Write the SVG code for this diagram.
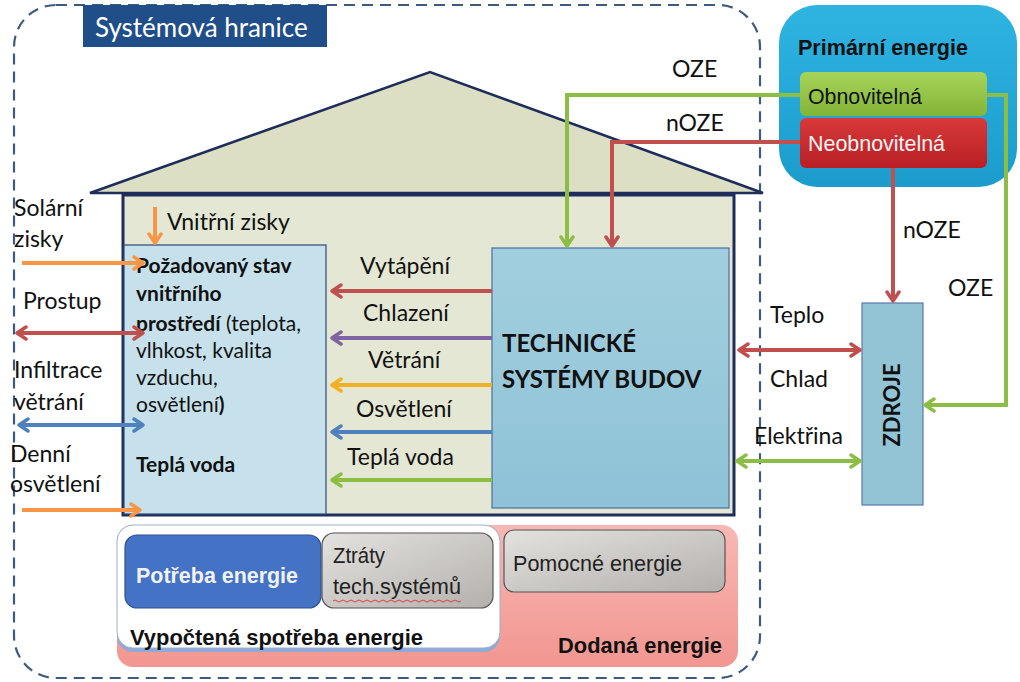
<svg xmlns="http://www.w3.org/2000/svg" width="1020" height="682" viewBox="0 0 1020 682">
<defs>
<style>
.t{font-family:Lato,"Open Sans","Liberation Sans",sans-serif;font-size:23px;fill:#111}
.i{font-size:21px}
.b{font-weight:bold}
.n{font-family:"Liberation Sans",Arial,sans-serif;font-size:22px}
.ln{fill:none;stroke-width:4;stroke-linecap:butt}
</style>
<linearGradient id="gPrim" x1="0" y1="0" x2="0" y2="1"><stop offset="0" stop-color="#2fb4e2"/><stop offset="1" stop-color="#1b9ccc"/></linearGradient>
<linearGradient id="gGreen" x1="0" y1="0" x2="0" y2="1"><stop offset="0" stop-color="#a6d45a"/><stop offset="1" stop-color="#82b437"/></linearGradient>
<linearGradient id="gRed" x1="0" y1="0" x2="0" y2="1"><stop offset="0" stop-color="#d8393a"/><stop offset="1" stop-color="#b81f24"/></linearGradient>
<linearGradient id="gGrey" x1="0" y1="0" x2="1" y2="1"><stop offset="0" stop-color="#e4e2df"/><stop offset="1" stop-color="#b3b0ad"/></linearGradient>
<linearGradient id="gPink" x1="0" y1="0" x2="0" y2="1"><stop offset="0" stop-color="#f8b8b4"/><stop offset="1" stop-color="#f29690"/></linearGradient>
<linearGradient id="gTsb" x1="0" y1="0" x2="0" y2="1"><stop offset="0" stop-color="#a2cfdf"/><stop offset="1" stop-color="#8ec2d6"/></linearGradient>
<marker id="mR" viewBox="0 0 14 16" refX="11" refY="8" markerWidth="14" markerHeight="16" markerUnits="userSpaceOnUse" orient="auto-start-reverse"><path d="M2,2 L11,8 L2,14" fill="none" stroke="#c0504d" stroke-width="3.5" stroke-linecap="round" stroke-linejoin="round"/></marker>
<marker id="mG" viewBox="0 0 14 16" refX="11" refY="8" markerWidth="14" markerHeight="16" markerUnits="userSpaceOnUse" orient="auto-start-reverse"><path d="M2,2 L11,8 L2,14" fill="none" stroke="#8cbd45" stroke-width="3.5" stroke-linecap="round" stroke-linejoin="round"/></marker>
<marker id="mP" viewBox="0 0 14 16" refX="11" refY="8" markerWidth="14" markerHeight="16" markerUnits="userSpaceOnUse" orient="auto-start-reverse"><path d="M2,2 L11,8 L2,14" fill="none" stroke="#8064a2" stroke-width="3.5" stroke-linecap="round" stroke-linejoin="round"/></marker>
<marker id="mY" viewBox="0 0 14 16" refX="11" refY="8" markerWidth="14" markerHeight="16" markerUnits="userSpaceOnUse" orient="auto-start-reverse"><path d="M2,2 L11,8 L2,14" fill="none" stroke="#f2b122" stroke-width="3.5" stroke-linecap="round" stroke-linejoin="round"/></marker>
<marker id="mB" viewBox="0 0 14 16" refX="11" refY="8" markerWidth="14" markerHeight="16" markerUnits="userSpaceOnUse" orient="auto-start-reverse"><path d="M2,2 L11,8 L2,14" fill="none" stroke="#4f81bd" stroke-width="3.5" stroke-linecap="round" stroke-linejoin="round"/></marker>
<marker id="mO" viewBox="0 0 14 16" refX="11" refY="8" markerWidth="14" markerHeight="16" markerUnits="userSpaceOnUse" orient="auto-start-reverse"><path d="M2,2 L11,8 L2,14" fill="none" stroke="#f79646" stroke-width="3.5" stroke-linecap="round" stroke-linejoin="round"/></marker>
</defs>
<rect width="1020" height="682" fill="#ffffff"/>

<g id="boundary">
<rect x="14" y="5" width="746" height="673" rx="42" fill="none" stroke="#3d5a80" stroke-width="2.2" stroke-dasharray="11,7"/>
<rect x="83" y="5" width="244" height="42" fill="#1f4e89"/>
<text x="95" y="37" class="t" style="fill:#fff;font-size:26px">Systémová hranice</text>
</g>

<g id="house">
<polygon points="90,193 430,72 763,193" fill="#dcdfc4" stroke="#1f2d5a" stroke-width="2.5"/>
<rect x="123" y="195" width="611" height="320" fill="#e4e7d3" stroke="#1f2d5a" stroke-width="3"/>
<text x="167" y="230" class="t">Vnitřní zisky</text>
</g>

<g id="pozadovany">
<rect x="124" y="245" width="202" height="269" fill="#c6e1eb" stroke="#2c4a7a" stroke-width="1.2"/>
<text class="t i b" x="136" y="273">Požadovaný stav</text>
<text class="t i b" x="136" y="301">vnitřního</text>
<text class="t i" x="136" y="331"><tspan class="b">prostředí</tspan> (teplota,</text>
<text class="t i" x="136" y="358">vlhkost, kvalita</text>
<text class="t i" x="136" y="385">vzduchu,</text>
<text class="t i" x="136" y="412">osvětlení<tspan class="b">)</tspan></text>
<text class="t i b" x="136" y="472">Teplá voda</text>
</g>

<g id="tsb">
<rect x="492" y="248" width="237" height="260" fill="url(#gTsb)" stroke="#4a6fa0" stroke-width="1.2"/>
<text class="t b" style="font-size:24px" x="502" y="352">TECHNICKÉ</text>
<text class="t b" style="font-size:24px" x="502" y="388">SYSTÉMY BUDOV</text>
</g>

<g id="zdroje">
<rect x="862" y="303" width="61" height="202" fill="#93c4d6" stroke="#5a78a8" stroke-width="1.2"/>
<text class="t b" style="font-size:22px" text-anchor="middle" transform="translate(900,405) rotate(-90)">ZDROJE</text>
</g>

<g id="primarni">
<rect x="779" y="5" width="238" height="182" rx="38" fill="url(#gPrim)"/>
<text class="n b" style="fill:#111" x="798" y="55" textLength="170" lengthAdjust="spacingAndGlyphs">Primární energie</text>
<rect x="800" y="72" width="187" height="44" rx="6" fill="url(#gGreen)"/>
<text class="n" style="fill:#111" x="808" y="104" textLength="114" lengthAdjust="spacingAndGlyphs">Obnovitelná</text>
<rect x="800" y="118" width="187" height="50" rx="6" fill="url(#gRed)"/>
<text class="n" style="fill:#f4f4f4" x="808" y="151" textLength="137" lengthAdjust="spacingAndGlyphs">Neobnovitelná</text>
</g>

<g id="energie">
<rect x="117" y="525" width="621" height="142" rx="16" fill="url(#gPink)"/>
<rect x="117" y="525" width="383" height="127" rx="16" fill="#8faad8"/>
<rect x="117" y="525" width="383" height="123" rx="16" fill="#ffffff" stroke="#a0b0c8" stroke-width="1"/>
<rect x="125" y="535" width="196" height="73" rx="12" fill="#4472c4" stroke="#2f528f" stroke-width="1.2"/>
<text class="n b" style="fill:#f2f2f2" x="136" y="583" textLength="162" lengthAdjust="spacingAndGlyphs">Potřeba energie</text>
<rect x="322" y="533" width="171" height="75" rx="12" fill="url(#gGrey)" stroke="#555" stroke-width="1.2"/>
<text class="n" style="fill:#222" x="333" y="563" textLength="52" lengthAdjust="spacingAndGlyphs">Ztráty</text>
<text class="n" style="fill:#222" x="333" y="594" textLength="128" lengthAdjust="spacingAndGlyphs">tech.systémů</text>
<path d="M333,601 q2,-2 4,0 t4,0 t4,0 t4,0 t4,0 t4,0 t4,0 t4,0 t4,0 t4,0 t4,0 t4,0 t4,0 t4,0 t4,0 t4,0 t4,0 t4,0 t4,0 t4,0 t4,0 t4,0 t4,0 t4,0 t4,0 t4,0 t4,0 t4,0 t4,0 t4,0 t4,0 t4,0" fill="none" stroke="#e03030" stroke-width="0.9"/>
<rect x="504" y="530" width="221" height="62" rx="10" fill="url(#gGrey)" stroke="#555" stroke-width="1.2"/>
<text class="n" style="fill:#222" x="513" y="571" textLength="169" lengthAdjust="spacingAndGlyphs">Pomocné energie</text>
<text class="n b" style="fill:#111" x="130" y="645" textLength="293" lengthAdjust="spacingAndGlyphs">Vypočtená spotřeba energie</text>
<text class="n b" style="fill:#111" x="558" y="653" textLength="164" lengthAdjust="spacingAndGlyphs">Dodaná energie</text>
</g>

<g id="connectors">
<polyline class="ln" stroke="#8cbd45" points="800,95 567,95 567,246" marker-end="url(#mG)"/>
<polyline class="ln" stroke="#c0504d" points="800,142 612,142 612,246" marker-end="url(#mR)"/>
<polyline class="ln" stroke="#8cbd45" points="987,95 1006,95 1006,405 925,405" marker-end="url(#mG)"/>
<line class="ln" stroke="#c0504d" x1="893" y1="168" x2="893" y2="301" marker-end="url(#mR)"/>
<line class="ln" stroke="#c0504d" x1="739" y1="350" x2="860" y2="350" marker-start="url(#mR)" marker-end="url(#mR)"/>
<line class="ln" stroke="#8cbd45" x1="737" y1="461" x2="860" y2="461" marker-start="url(#mG)" marker-end="url(#mG)"/>
<line class="ln" stroke="#c0504d" x1="492" y1="291" x2="332" y2="291" marker-end="url(#mR)"/>
<line class="ln" stroke="#8064a2" x1="492" y1="338" x2="332" y2="338" marker-end="url(#mP)"/>
<line class="ln" stroke="#f2b122" x1="492" y1="385" x2="332" y2="385" marker-end="url(#mY)"/>
<line class="ln" stroke="#4f81bd" x1="492" y1="432" x2="332" y2="432" marker-end="url(#mB)"/>
<line class="ln" stroke="#8cbd45" x1="492" y1="480" x2="332" y2="480" marker-end="url(#mG)"/>
<line class="ln" stroke="#f79646" x1="22" y1="263" x2="143" y2="263" marker-end="url(#mO)"/>
<line class="ln" stroke="#c0504d" x1="17" y1="333" x2="143" y2="333" marker-start="url(#mR)" marker-end="url(#mR)"/>
<line class="ln" stroke="#4f81bd" x1="19" y1="425" x2="143" y2="425" marker-start="url(#mB)" marker-end="url(#mB)"/>
<line class="ln" stroke="#f79646" x1="22" y1="510" x2="140" y2="510" marker-end="url(#mO)"/>
<line class="ln" stroke="#f79646" x1="155" y1="207" x2="155" y2="243" marker-end="url(#mO)"/>
</g>

<g id="labels">
<text class="t" x="672" y="77">OZE</text>
<text class="t" x="666" y="131">nOZE</text>
<text class="t" x="903" y="238">nOZE</text>
<text class="t" x="948" y="296">OZE</text>
<text class="t" x="14" y="216">Solární</text>
<text class="t" x="14" y="247">zisky</text>
<text class="t" x="23" y="309">Prostup</text>
<text class="t" x="14" y="378">Infiltrace</text>
<text class="t" x="14" y="410">větrání</text>
<text class="t" x="10" y="462">Denní</text>
<text class="t" x="10" y="492">osvětlení</text>
<text class="t" x="360" y="274">Vytápění</text>
<text class="t" x="363" y="321">Chlazení</text>
<text class="t" x="368" y="368">Větrání</text>
<text class="t" x="356" y="417">Osvětlení</text>
<text class="t" x="347" y="465">Teplá voda</text>
<text class="t" x="770" y="323">Teplo</text>
<text class="t" x="770" y="387">Chlad</text>
<text class="t" x="754" y="444">Elektřina</text>
</g>
</svg>
